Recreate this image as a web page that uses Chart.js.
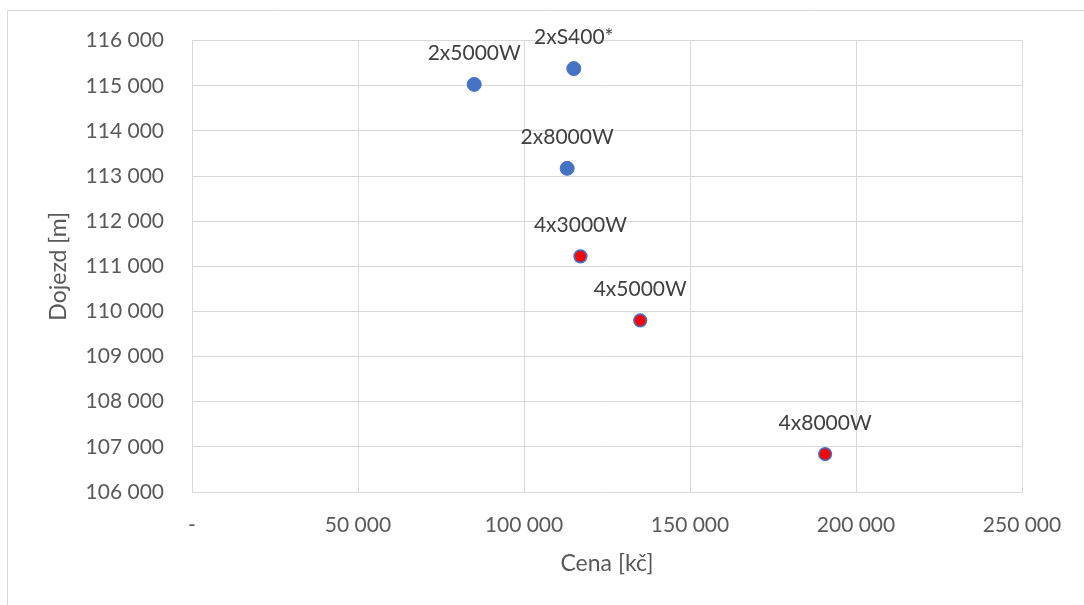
<!DOCTYPE html>
<html>
<head>
<meta charset="utf-8">
<script src="https://cdn.jsdelivr.net/npm/chart.js@4"></script>
<style>
  html, body { margin: 0; padding: 0; background: #ffffff; }
  #wrap { position: relative; width: 1084px; height: 605px; }
</style>
</head>
<body>
<div id="wrap"><canvas id="chart" width="1084" height="605"></canvas></div>
<script>
// Two-motor configurations
const names2 = ['2x5000W', '2xS400*', '2x8000W'];
const price2 = [85000, 115000, 113000];
const range2 = [115030, 115380, 113170];

// Four-motor configurations
const names4 = ['4x3000W', '4x5000W', '4x8000W'];
const price4 = [117000, 135000, 190700];
const range4 = [111220, 109800, 106840];

// Axis ranges and tick steps
const xTicks = [0, 50000, 100000, 150000, 200000, 250000];
const yTicks = [106000, 107000, 108000, 109000, 110000, 111000, 112000, 113000, 114000, 115000, 116000];

const FONT = 'Lato, "Open Sans", "Liberation Sans", sans-serif';
const TEXT = '#595959';
const GRID = '#d9d9d9';
const BLUE = '#4472C4';

function fmt(v) {
  if (v === 0) return '-';
  return String(Math.round(v)).replace(/\B(?=(\d{3})+(?!\d))/g, ' ');
}

function toPoints(xs, ys, names) {
  return xs.map((x, i) => ({ x: x, y: ys[i], name: names[i] }));
}

// Outer frame of the chart area (top and left edges)
const framePlugin = {
  id: 'frame',
  beforeDraw(chart) {
    const ctx = chart.ctx;
    ctx.save();
    ctx.strokeStyle = GRID;
    ctx.lineWidth = 1;
    ctx.beginPath();
    ctx.moveTo(7.5, chart.height);
    ctx.lineTo(7.5, 10.5);
    ctx.lineTo(chart.width, 10.5);
    ctx.stroke();
    ctx.restore();
  }
};

// Name label drawn above each point
const pointNamePlugin = {
  id: 'pointNames',
  afterDatasetsDraw(chart) {
    const ctx = chart.ctx;
    ctx.save();
    ctx.font = '21px ' + FONT;
    ctx.fillStyle = '#404040';
    ctx.textAlign = 'center';
    ctx.textBaseline = 'middle';
    chart.data.datasets.forEach((ds, di) => {
      const meta = chart.getDatasetMeta(di);
      meta.data.forEach((el, i) => {
        ctx.fillText(ds.data[i].name, el.x, el.y - 31);
      });
    });
    ctx.restore();
  }
};

new Chart(document.getElementById('chart'), {
  type: 'scatter',
  data: {
    datasets: [
      {
        label: '2 motory',
        data: toPoints(price2, range2, names2),
        backgroundColor: BLUE,
        borderColor: BLUE,
        borderWidth: 1,
        pointRadius: 7,
        pointHoverRadius: 7
      },
      {
        label: '4 motory',
        data: toPoints(price4, range4, names4),
        backgroundColor: '#ff0000',
        borderColor: BLUE,
        borderWidth: 1.6,
        pointRadius: 6.3,
        pointHoverRadius: 6.3
      }
    ]
  },
  options: {
    responsive: false,
    animation: false,
    layout: { padding: { top: 39, right: 62, left: 0, bottom: 0 } },
    plugins: {
      legend: { display: false },
      tooltip: { enabled: false }
    },
    scales: {
      x: {
        type: 'linear',
        min: xTicks[0],
        max: xTicks[xTicks.length - 1],
        afterBuildTicks(axis) { axis.ticks = xTicks.map(v => ({ value: v })); },
        afterFit(axis) { axis.height = 113; },
        grid: { color: GRID, lineWidth: 1, drawTicks: false },
        border: { color: GRID, width: 1 },
        ticks: {
          padding: 21,
          color: TEXT,
          font: { family: FONT, size: 21 },
          maxRotation: 0,
          autoSkip: false,
          callback: v => fmt(v)
        },
        title: {
          display: true,
          text: 'Cena [kč]',
          color: TEXT,
          font: { family: FONT, size: 23 },
          padding: { top: 0, bottom: 28 }
        }
      },
      y: {
        type: 'linear',
        min: yTicks[0],
        max: yTicks[yTicks.length - 1],
        afterBuildTicks(axis) { axis.ticks = yTicks.map(v => ({ value: v })); },
        afterFit(axis) { axis.width = 192; },
        grid: { color: GRID, lineWidth: 1, drawTicks: false },
        border: { color: GRID, width: 1 },
        ticks: {
          padding: 28,
          color: TEXT,
          font: { family: FONT, size: 21 },
          autoSkip: false,
          callback: v => fmt(v)
        },
        title: {
          display: true,
          text: 'Dojezd [m]',
          color: TEXT,
          font: { family: FONT, size: 23 },
          padding: { top: 45, bottom: 0 }
        }
      }
    }
  },
  plugins: [framePlugin, pointNamePlugin]
});
</script>
</body>
</html>
